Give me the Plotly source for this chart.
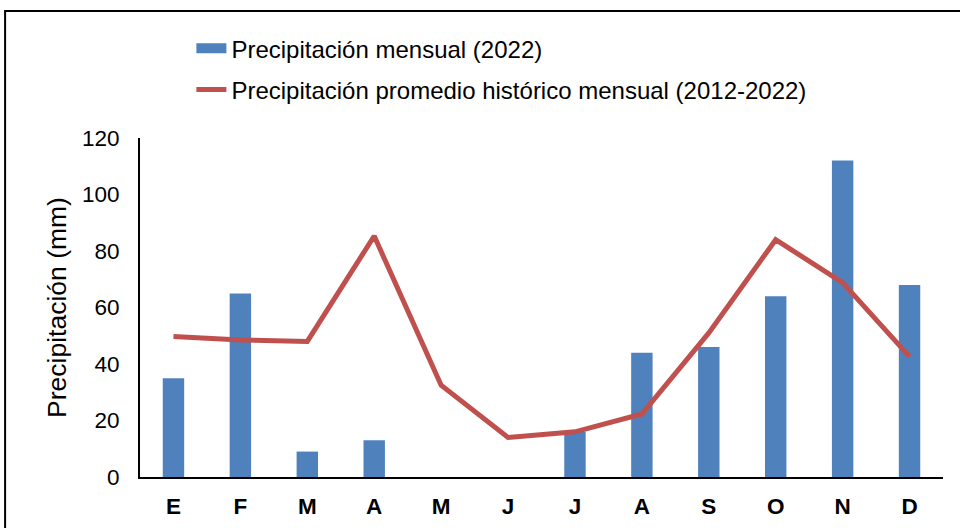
import plotly.graph_objects as go

months = ["E", "F", "M", "A", "M", "J", "J", "A", "S", "O", "N", "D"]
precip_2022 = [35, 65, 9, 13, 0, 0, 16, 44, 46, 64, 112, 68]
precip_hist = [49.7, 48.5, 48, 85.3, 32.5, 14, 16, 22.3, 51, 84, 68.8, 42.6]
y_ticks = [0, 20, 40, 60, 80, 100, 120]

x_idx = list(range(len(months)))
FONT = "Liberation Sans, Arial, sans-serif"

fig = go.Figure()
fig.add_trace(go.Bar(
    x=x_idx, y=precip_2022, name="Precipitación mensual (2022)",
    marker=dict(color="#4F81BD", line=dict(width=0)),
    showlegend=False,
))
# legend proxy: wide blue rectangle like the reference legend key
fig.add_trace(go.Scatter(
    x=[None], y=[None], mode="lines", name="Precipitación mensual (2022)",
    line=dict(color="#4F81BD", width=15), legendgroup="a",
))
fig.add_trace(go.Scatter(
    x=x_idx, y=precip_hist, mode="lines",
    name="Precipitación promedio histórico mensual (2012-2022)",
    line=dict(color="#C0504D", width=5),
    legendgroup="b",
))

fig.update_layout(
    width=960, height=528,
    margin=dict(l=140, r=17, t=138, b=51, autoexpand=False),
    paper_bgcolor="white", plot_bgcolor="white",
    font=dict(family=FONT, color="black", size=22),
    bargap=0.68,
    showlegend=True,
    legend=dict(
        x=0.064, y=1.33, xanchor="left", yanchor="top",
        traceorder="grouped", tracegroupgap=7,
        font=dict(size=24), bgcolor="rgba(0,0,0,0)",
    ),
    xaxis=dict(
        tickmode="array", tickvals=x_idx, ticktext=months,
        range=[-0.5, 11.5], showline=True, linecolor="black", linewidth=2,
        showgrid=False, ticks="", automargin=False,
        tickfont=dict(size=22.5, family=FONT, weight="bold"),
        ticklabelstandoff=8, zeroline=False,
    ),
    yaxis=dict(
        range=[0, 120], tickvals=y_ticks, showline=True, linecolor="black", linewidth=2,
        showgrid=False, ticks="", zeroline=False, automargin=False,
        title=dict(text="Precipitación (mm)", font=dict(size=26.5), standoff=8),
        tickfont=dict(size=22.5), ticklabelstandoff=14,
    ),
    shapes=[dict(
        type="rect", xref="paper", yref="paper",
        x0=-0.168, x1=1.2, y0=-0.3, y1=1.3746,
        line=dict(color="black", width=2), fillcolor="rgba(0,0,0,0)", layer="below",
    )],
)

fig.write_html(
    "out.html",
    config={"displayModeBar": False},
    post_script="document.body.style.margin='0';",
)
